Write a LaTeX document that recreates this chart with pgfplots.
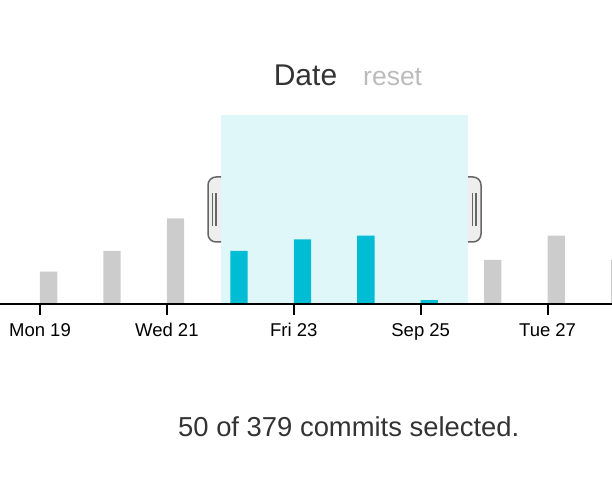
\documentclass[border=0pt]{standalone}
\usepackage{pgfplots}
\pgfplotsset{compat=1.18}
\usepackage{fontspec}
\setmainfont{Liberation Sans}
\definecolor{bargray}{HTML}{CCCCCC}
\definecolor{barcyan}{HTML}{00BCD4}
\definecolor{brushfill}{HTML}{E0F7FA}
\definecolor{handlefill}{HTML}{EEEEEE}
\definecolor{handleline}{HTML}{666666}
\definecolor{titlegray}{HTML}{333333}
\definecolor{resetgray}{HTML}{BBBBBB}
\begin{document}
\begin{tikzpicture}[x=1pt,y=1pt]
\path[use as bounding box] (0,0) rectangle (612,484);
\begin{axis}[
  at={(0pt,180pt)}, anchor=south west, scale only axis,
  width=612pt, height=189pt,
  xmin=18.370, xmax=28.015, ymin=0, ymax=49.7,
  hide y axis,
  axis x line*=bottom,
  x axis line style={-, line width=2pt, black},
  xtick={19,21,23,25,27},
  xticklabels={Mon 19,Wed 21,Fri 23,Sep 25,Tue 27},
  tick align=outside,
  major tick length=11pt,
  tick style={black, line width=2pt},
  xticklabel style={font=\fontsize{18.5}{22}\selectfont, anchor=base, inner sep=0pt, yshift=-22pt},
  ybar, bar width=0.2727, bar shift=0pt,
  axis on top,
]
\fill[brushfill] (axis cs:21.853,0) rectangle (axis cs:25.741,49.7);
\addplot[fill=bargray, draw=none] coordinates {(19.136,8.5) (20.136,14) (21.136,22.5) (26.136,11.6) (27.136,18) (28.136,11.6)};
\addplot[fill=barcyan, draw=none] coordinates {(22.136,14) (23.136,17) (24.136,18) (25.136,1)};
\end{axis}
% brush handles
\draw[handleline, fill=handlefill, line width=1.5pt] (221,307) -- (216,307) arc[start angle=90,end angle=180,radius=8] -- (208,250) arc[start angle=180,end angle=270,radius=8] -- (221,242);
\draw[handleline, line width=1.5pt] (212.5,291) -- (212.5,258) (216,291) -- (216,258);
\draw[handleline, fill=handlefill, line width=1.5pt] (468,307) -- (473,307) arc[start angle=90,end angle=0,radius=8] -- (481,250) arc[start angle=0,end angle=-90,radius=8] -- (468,242);
\draw[handleline, line width=1.5pt] (472.5,291) -- (472.5,258) (476,291) -- (476,258);
% texts
\node[anchor=base, text=titlegray, font=\fontsize{30}{35}\selectfont] at (305.5,398) {Date};
\node[anchor=base west, inner sep=0pt, text=resetgray, font=\fontsize{26.5}{31}\selectfont] at (363,398) {reset};
\node[anchor=base west, inner sep=0pt, text=titlegray, font=\fontsize{27.4}{32}\selectfont] at (178,48) {50 of 379 commits selected.};
\end{tikzpicture}
\end{document}
